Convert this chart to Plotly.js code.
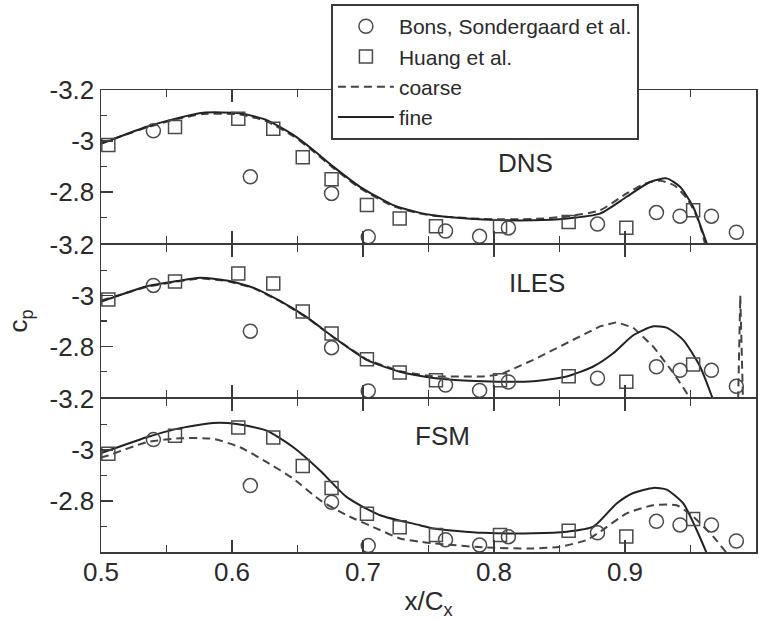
<!DOCTYPE html>
<html>
<head>
<meta charset="utf-8">
<script src="https://cdn.plot.ly/plotly-3.0.1.min.js"></script>
<style>html,body{margin:0;padding:0;background:#fff;}#chart{width:759px;height:621px;}</style>
</head>
<body>
<div id="chart"></div>
<script>
// Experimental data (same in every panel)
const xBons  = [0.540, 0.614, 0.676, 0.704, 0.763, 0.789, 0.811, 0.879, 0.924, 0.942, 0.966, 0.985];
const cpBons = [-3.040, -2.860, -2.795, -2.625, -2.648, -2.627, -2.660, -2.675, -2.720, -2.706, -2.706, -2.643];
const xHuang  = [0.5056, 0.5565, 0.6048, 0.6315, 0.654, 0.676, 0.703, 0.728, 0.7557, 0.8046, 0.857, 0.901, 0.952];
const cpHuang = [-2.985, -3.055, -3.087, -3.048, -2.937, -2.851, -2.750, -2.697, -2.667, -2.667, -2.683, -2.661, -2.729];

// DNS (top panel)
const xDnsFine  = [0.5, 0.5056, 0.5349, 0.5578, 0.578, 0.6061, 0.6265, 0.6468, 0.662, 0.6773, 0.6977, 0.7231, 0.7435, 0.7537, 0.7918, 0.830, 0.8555, 0.8809, 0.9013, 0.919, 0.9318, 0.942, 0.9521, 0.9624, 0.966];
const cpDnsFine = [-2.989, -3.0, -3.056, -3.089, -3.111, -3.109, -3.082, -3.024, -2.965, -2.9, -2.821, -2.749, -2.719, -2.710, -2.693, -2.690, -2.697, -2.716, -2.782, -2.840, -2.854, -2.821, -2.742, -2.599, -2.55];
const xDnsCoarse  = [0.5, 0.5349, 0.5578, 0.578, 0.6061, 0.6265, 0.6468, 0.662, 0.6773, 0.6977, 0.7231, 0.7435, 0.7537, 0.7918, 0.830, 0.8555, 0.8809, 0.9013, 0.915, 0.927, 0.938, 0.948, 0.956, 0.961, 0.964];
const cpDnsCoarse = [-2.992, -3.053, -3.086, -3.106, -3.104, -3.077, -3.019, -2.96, -2.895, -2.816, -2.745, -2.716, -2.708, -2.695, -2.695, -2.705, -2.729, -2.795, -2.833, -2.845, -2.825, -2.77, -2.69, -2.6, -2.55];

// ILES (middle panel)
const xIlesFine  = [0.5, 0.5056, 0.5349, 0.5578, 0.5756, 0.596, 0.6163, 0.6366, 0.657, 0.6773, 0.7028, 0.7282, 0.7537, 0.7918, 0.830, 0.8555, 0.8758, 0.891, 0.9063, 0.9216, 0.9318, 0.9445, 0.9573, 0.9662, 0.97];
const cpIlesFine = [-2.976, -2.986, -3.037, -3.057, -3.070, -3.059, -3.031, -2.979, -2.915, -2.837, -2.747, -2.700, -2.676, -2.663, -2.663, -2.682, -2.721, -2.773, -2.844, -2.879, -2.874, -2.825, -2.721, -2.605, -2.55];
const xIlesCoarse  = [0.5, 0.5349, 0.5578, 0.5756, 0.596, 0.6163, 0.6366, 0.657, 0.6773, 0.7028, 0.7282, 0.7537, 0.7918, 0.8046, 0.830, 0.8555, 0.8809, 0.8936, 0.9063, 0.9216, 0.9369, 0.947, 0.953, 0.986, 0.988, 0.9905];
const cpIlesCoarse = [-2.98, -3.035, -3.055, -3.068, -3.058, -3.03, -2.978, -2.914, -2.836, -2.748, -2.702, -2.682, -2.682, -2.689, -2.747, -2.812, -2.879, -2.895, -2.874, -2.799, -2.696, -2.618, -2.5, -2.5, -3.0, -2.5];

// FSM (bottom panel)
const xFsmFine  = [0.5, 0.5056, 0.5349, 0.5578, 0.5857, 0.6036, 0.6265, 0.6468, 0.6672, 0.6876, 0.713, 0.7435, 0.7537, 0.7918, 0.830, 0.8555, 0.8758, 0.8936, 0.9063, 0.9216, 0.9318, 0.9445, 0.9547, 0.9624, 0.966];
const cpFsmFine = [-2.987, -2.997, -3.049, -3.082, -3.105, -3.101, -3.075, -3.010, -2.919, -2.815, -2.744, -2.705, -2.692, -2.675, -2.673, -2.679, -2.699, -2.790, -2.831, -2.851, -2.844, -2.790, -2.686, -2.595, -2.55];
const xFsmCoarse  = [0.5, 0.5056, 0.5349, 0.5603, 0.5857, 0.6061, 0.6265, 0.6468, 0.6672, 0.6876, 0.713, 0.7282, 0.7435, 0.7537, 0.7918, 0.830, 0.8504, 0.8707, 0.8809, 0.9013, 0.9216, 0.9394, 0.9521, 0.9674, 0.9776, 0.98];
const cpFsmCoarse = [-2.97, -2.978, -3.030, -3.045, -3.043, -3.010, -2.952, -2.887, -2.803, -2.744, -2.686, -2.653, -2.640, -2.634, -2.618, -2.614, -2.621, -2.647, -2.679, -2.751, -2.783, -2.783, -2.738, -2.660, -2.595, -2.57];

const yTickVals = [-3.2, -3.0, -2.8];
const yTickText = ['-3.2', '-3', '-2.8'];
const yMinorVals = [-3.1, -2.9, -2.7];
const panelNames = ['FSM', 'ILES', 'DNS'];

const INK = '#3a3a3a';
const TXT = '#2a2a2a';
const FONT = 'Liberation Sans, Arial, Helvetica, sans-serif';
const LW = 1.5;
const H = 621 - 90 - 69;
const half = (LW / 2) / H;

function expTraces(xa, ya, legend) {
  return [
    {x: xBons, y: cpBons, xaxis: xa, yaxis: ya, mode: 'markers', type: 'scatter',
     name: 'Bons, Sondergaard et al.', showlegend: legend, legendrank: 1,
     marker: {symbol: 'circle-open', size: 14, color: '#4a4a4a', line: {width: 1.5, color: '#4a4a4a'}}},
    {x: xHuang, y: cpHuang, xaxis: xa, yaxis: ya, mode: 'markers', type: 'scatter',
     name: 'Huang et al.', showlegend: legend, legendrank: 2,
     marker: {symbol: 'square-open', size: 13, color: '#4a4a4a', line: {width: 1.5, color: '#4a4a4a'}}}
  ];
}
function simTraces(xa, ya, xc, yc, xf, yf, legend, coarseShape) {
  return [
    {x: xc, y: yc, xaxis: xa, yaxis: ya, mode: 'lines', type: 'scatter',
     name: 'coarse', showlegend: legend, legendrank: 3,
     line: {color: '#444', width: 2, dash: '8px,5px', shape: coarseShape || 'spline', smoothing: 0.6}},
    {x: xf, y: yf, xaxis: xa, yaxis: ya, mode: 'lines', type: 'scatter',
     name: 'fine', showlegend: legend, legendrank: 4,
     line: {color: '#222', width: 2, shape: 'spline', smoothing: 0.6}}
  ];
}

const data = [].concat(
  simTraces('x3', 'y3', xDnsCoarse, cpDnsCoarse, xDnsFine, cpDnsFine, true),
  expTraces('x3', 'y3', true),
  simTraces('x2', 'y2', xIlesCoarse, cpIlesCoarse, xIlesFine, cpIlesFine, false, 'linear'),
  expTraces('x2', 'y2', false),
  simTraces('x', 'y', xFsmCoarse, cpFsmCoarse, xFsmFine, cpFsmFine, false),
  expTraces('x', 'y', false)
);

function xAxis(anchor, labels) {
  return {
    anchor: anchor, range: [0.5, 1.0], tick0: 0.5, dtick: 0.1,
    ticks: 'inside', ticklen: 12, tickwidth: 1.5, tickcolor: INK,
    showline: true, linewidth: LW, linecolor: INK, mirror: 'ticks',
    showgrid: false, zeroline: false, showticklabels: labels,
    ticklabelstandoff: -4,
    tickfont: {family: FONT, size: 26, color: TXT},
    minor: {ticks: 'inside', ticklen: 7, tickwidth: 1.2, tickcolor: INK, tick0: 0.5, dtick: 0.05, showgrid: false}
  };
}
function yAxis(anchor, domain) {
  return {
    anchor: anchor, domain: domain, range: [-2.6, -3.2],
    tickmode: 'array', tickvals: yTickVals, ticktext: yTickText,
    ticks: 'inside', ticklen: 12, tickwidth: 1.5, tickcolor: INK,
    showline: true, linewidth: LW, linecolor: INK, mirror: true,
    showgrid: false, zeroline: false,
    tickfont: {family: FONT, size: 26, color: TXT},
    minor: {ticks: 'inside', ticklen: 6, tickwidth: 1.2, tickcolor: INK, tickvals: yMinorVals, showgrid: false}
  };
}

const xa = xAxis('y', true);
xa.title = {text: 'x/C<sub>x</sub>', font: {family: FONT, size: 26, color: TXT}, standoff: 6};
const y2 = yAxis('x2', [1/3 + half, 2/3 - half]);
y2.title = {text: 'c<sub>p</sub>', font: {family: FONT, size: 26, color: TXT}, standoff: 14};

const layout = {
  width: 759, height: 621,
  margin: {l: 101, r: 3, t: 90, b: 69},
  paper_bgcolor: '#fff', plot_bgcolor: '#fff',
  font: {family: FONT, color: TXT},
  xaxis: xa,
  xaxis2: Object.assign(xAxis('y2', false), {matches: 'x'}),
  xaxis3: Object.assign(xAxis('y3', false), {matches: 'x'}),
  yaxis: yAxis('x', [0, 1/3 - half]),
  yaxis2: y2,
  yaxis3: yAxis('x3', [2/3 + half, 1]),
  showlegend: true,
  legend: {
    x: 0.351, y: 1.186, xanchor: 'left', yanchor: 'top',
    bgcolor: '#fff', bordercolor: INK, borderwidth: 2,
    font: {family: FONT, size: 21, color: TXT},
    itemwidth: 56, tracegroupgap: 0, traceorder: 'normal',
    entrywidth: 320, entrywidthmode: 'pixels'
  },
  annotations: [
    {text: panelNames[2], x: 0.8237, y: -2.914, xref: 'x3', yref: 'y3', showarrow: false, font: {family: FONT, size: 26, color: TXT}},
    {text: panelNames[1], x: 0.8328, y: -3.049, xref: 'x2', yref: 'y2', showarrow: false, font: {family: FONT, size: 26, color: TXT}},
    {text: panelNames[0], x: 0.761, y: -3.056, xref: 'x', yref: 'y', showarrow: false, font: {family: FONT, size: 26, color: TXT}}
  ]
};

Plotly.newPlot('chart', data, layout, {displayModeBar: false, staticPlot: true});
</script>
</body>
</html>
